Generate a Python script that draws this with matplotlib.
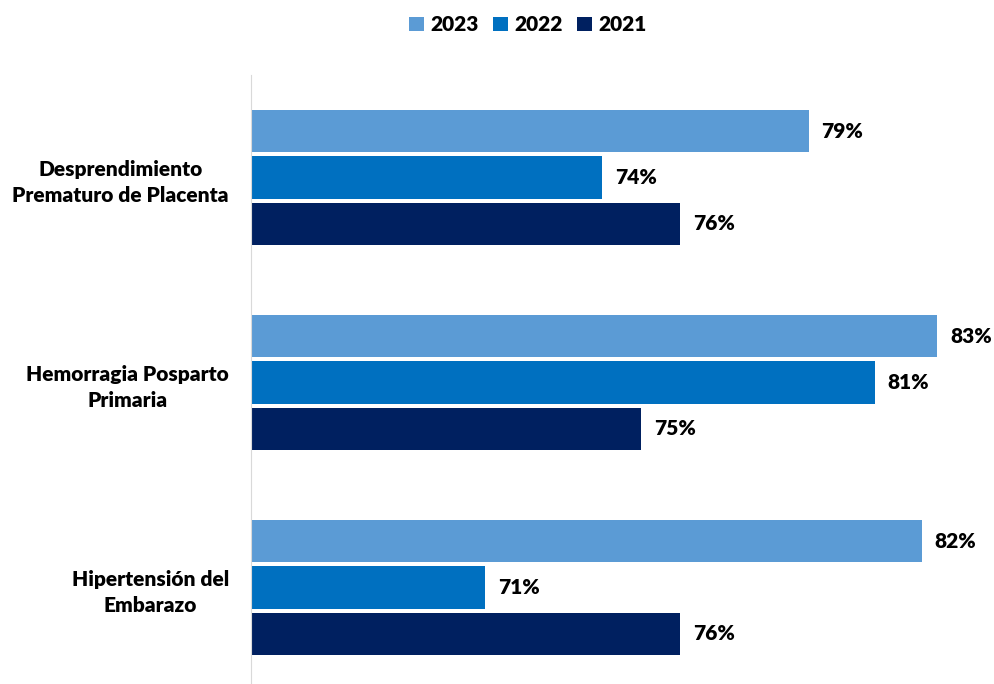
import matplotlib.pyplot as plt
import numpy as np

plt.rcParams['font.family'] = ['Lato', 'DejaVu Sans']

categories = ["Desprendimiento\nPrematuro de Placenta", "Hemorragia Posparto\nPrimaria", "Hipertensión del\nEmbarazo"]
years = ["2023", "2022", "2021"]
colors = ["#5B9BD5", "#0070C0", "#002060"]

# values in percent (labels are rounded)
v2023 = [79.3, 82.6, 82.2]
v2022 = [74.0, 81.0, 71.0]
v2021 = [76.0, 75.0, 76.0]
series = [v2023, v2022, v2021]

fig = plt.figure(figsize=(9.94, 6.84), dpi=100)
ax = fig.add_axes([251 / 994, -6 / 684, 737 / 994, 615 / 684])

x_min = 65
bar_h = 0.205
step = 0.225
y = np.arange(len(categories))

for i, (vals, year, col) in enumerate(zip(series, years, colors)):
    pos = y + (i - 1) * step
    ax.barh(pos, np.array(vals) - x_min, left=x_min, height=bar_h, color=col, label=year)
    for p, v in zip(pos, vals):
        ax.text(v + 0.33, p, f"{round(v)}%", va='center', ha='left',
                fontsize=15, fontweight='heavy', color='black')

ax.set_xlim(x_min, x_min + 737 / 39)
ax.set_ylim(len(categories) - 0.5, -0.5)
ax.set_yticks(y)
ax.set_yticklabels(categories, fontsize=15, fontweight='heavy', multialignment='center',
                   linespacing=1.45)
ax.tick_params(axis='y', length=0, pad=16)
ax.set_xticks([])

for s in ['top', 'right', 'bottom']:
    ax.spines[s].set_visible(False)
ax.spines['left'].set_color('#D9D9D9')

fig.legend(loc='upper center', bbox_to_anchor=(0.531, 1.005), ncol=3, frameon=False,
           prop={'weight': 'heavy', 'size': 15}, handlelength=0.7, handleheight=0.7,
           handletextpad=0.3, columnspacing=0.7)

fig.savefig("out.png", dpi=100)
